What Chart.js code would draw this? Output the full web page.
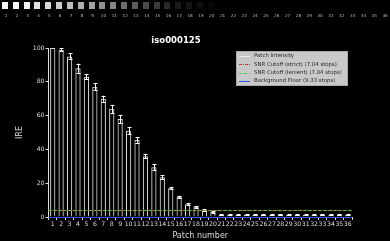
<!DOCTYPE html>
<html>
<head>
<meta charset="utf-8">
<script src="https://cdn.jsdelivr.net/npm/chart.js@4.4.1/dist/chart.umd.min.js"></script>
<style>
  html, body { margin: 0; padding: 0; background: #000; }
  canvas { display: block; }
</style>
</head>
<body>
<canvas id="patches" width="390" height="241"></canvas>
<script>
// patch data
var patchLabels = ["1","2","3","4","5","6","7","8","9","10","11","12","13","14","15","16","17","18",
                   "19","20","21","22","23","24","25","26","27","28","29","30","31","32","33","34","35","36"];
var patchIntensity = [100, 99, 95, 88, 83, 77, 70, 64, 58, 51, 45.5, 36, 29.5, 23.5, 17, 12, 7.5, 6,
                      4, 3, 1.3, 1.3, 1.3, 1.3, 1.3, 1.3, 1.3, 1.3, 1.3, 1.3, 1.3, 1.3, 1.3, 1.3, 1.3, 1.3];
var patchError = [0, 0.8, 1.8, 2.7, 1.5, 2, 1.8, 2.4, 2.4, 2, 1.6, 1.2, 1.8, 1.2, 0.6, 0.6, 0.5, 0.5,
                  0.5, 0.5, 0.4, 0.4, 0.4, 0.4, 0.4, 0.4, 0.4, 0.4, 0.4, 0.4, 0.4, 0.4, 0.4, 0.4, 0.4, 0.4];
var snrStrict = 4.1;
var snrLenient = 4.1;
var backgroundFloor = 0.16;
var yTicks = [0, 20, 40, 60, 80, 100];

var legendItems = [
    { text: "Patch Intensity", color: "#ececec", dash: [] },
    { text: "SNR Cutoff (strict) (7.04 stops)", color: "#e03030", dash: [3, 1, 1, 1] },
    { text: "SNR Cutoff (lenient) (7.04 stops)", color: "#44cc44", dash: [3, 2] },
    { text: "Background Floor (9.33 stops)", color: "#3355ee", dash: [] }
];

var txt = "#dddddd";

var overlay = {
    id: 'overlay',
    afterDatasetsDraw: function(chart) {
        var c = chart.ctx, x = chart.scales.x, y = chart.scales.y, a = chart.chartArea;
        var meta = chart.getDatasetMeta(0);
        c.save();
        // error bars
        c.strokeStyle = "#ffffff";
        c.lineWidth = 1;
        meta.data.forEach(function(bar, i) {
            var e = patchError[i];
            if (!e) return;
            var v = patchIntensity[i];
            var cx = Math.round(bar.x) + 0.5;
            var top = y.getPixelForValue(Math.min(100, v + e));
            var bot = y.getPixelForValue(v - e);
            var hw = 2;
            c.beginPath();
            c.moveTo(cx, top); c.lineTo(cx, bot);
            c.moveTo(cx - hw, Math.round(top) + 0.5); c.lineTo(cx + hw, Math.round(top) + 0.5);
            c.moveTo(cx - hw, Math.round(bot) + 0.5); c.lineTo(cx + hw, Math.round(bot) + 0.5);
            c.stroke();
        });
        // horizontal reference lines
        function hline(v, color, dash) {
            var py = Math.round(y.getPixelForValue(v)) + 0.5;
            c.setLineDash(dash);
            c.strokeStyle = color;
            c.beginPath();
            c.moveTo(a.left, py); c.lineTo(a.right, py);
            c.stroke();
        }
        hline(backgroundFloor, legendItems[3].color, []);
        hline(snrStrict, legendItems[1].color, legendItems[1].dash);
        hline(snrLenient, legendItems[2].color, legendItems[2].dash);
        c.setLineDash([]);

        // legend box
        var lx = 236, ly = 51, lw = 112, lh = 35;
        c.fillStyle = "rgba(212,212,212,0.95)";
        c.fillRect(lx, ly, lw, lh);
        c.strokeStyle = "#aaaaaa";
        c.strokeRect(lx + 0.5, ly + 0.5, lw - 1, lh - 1);
        c.font = "5.4px 'DejaVu Sans'";
        c.textBaseline = "middle";
        legendItems.forEach(function(it, i) {
            var ry = ly + 5 + i * 8.3;
            c.strokeStyle = it.color;
            c.lineWidth = 1;
            c.setLineDash(it.dash);
            c.beginPath();
            c.moveTo(lx + 3, Math.round(ry) + 0.5); c.lineTo(lx + 14, Math.round(ry) + 0.5);
            c.stroke();
            c.setLineDash([]);
            c.fillStyle = "#2a2a2a";
            c.fillText(it.text, lx + 18, ry);
        });

        // patch swatches strip at the top
        c.textAlign = "center";
        c.font = "4.2px 'DejaVu Sans'";
        patchIntensity.forEach(function(v, i) {
            var sx = 2 + i * 10.83;
            var g = Math.round(255 * Math.pow(Math.max(v - 1.5, 0) / 100, 0.8));
            c.fillStyle = "rgb(" + g + "," + g + "," + g + ")";
            c.fillRect(Math.round(sx), 2, 6, 7);
            c.fillStyle = "#bbbbbb";
            c.fillText(patchLabels[i], sx + 4, 15.5);
        });
        c.restore();
    }
};

new Chart(document.getElementById("patches"), {
    type: 'bar',
    data: {
        labels: patchLabels,
        datasets: [{
            label: "Patch Intensity",
            data: patchIntensity,
            backgroundColor: "rgba(0,0,0,0)",
            borderColor: "#dcdcdc",
            borderWidth: 1,
            barPercentage: 0.62,
            categoryPercentage: 1
        }]
    },
    options: {
        responsive: false,
        animation: false,
        devicePixelRatio: 1,
        layout: { padding: { left: 0, right: 38, top: 0, bottom: 0 } },
        plugins: {
            legend: { display: false },
            tooltip: { enabled: false },
            title: {
                display: true,
                text: "iso000125",
                color: "#ffffff",
                font: { family: "'DejaVu Sans'", size: 8.5, weight: 'bold' },
                padding: { top: 35.5, bottom: 2.3 }
            }
        },
        scales: {
            x: {
                offset: true,
                grid: { drawOnChartArea: false, color: txt, tickLength: 3 },
                border: { color: txt, width: 1 },
                ticks: { color: txt, font: { family: "'DejaVu Sans'", size: 6.2 }, padding: 1, maxRotation: 0, autoSkip: false },
                title: { display: true, text: "Patch number", color: txt, font: { family: "'DejaVu Sans'", size: 8 }, padding: { top: 2, bottom: 0 } },
                afterFit: function(s) { s.height = 24; }
            },
            y: {
                min: 0, max: 100,
                afterBuildTicks: function(s) { s.ticks = yTicks.map(function(v) { return { value: v }; }); },
                grid: { drawOnChartArea: false, color: txt, tickLength: 3 },
                border: { color: txt, width: 1 },
                ticks: { color: txt, font: { family: "'DejaVu Sans'", size: 6.2 }, padding: 1,
                         callback: function(v) { return String(v); } },
                title: { display: true, text: "IRE", color: txt, font: { family: "'DejaVu Sans'", size: 8 }, padding: { top: 15, bottom: 0 } },
                afterFit: function(s) { s.width = 48.5; }
            }
        }
    },
    plugins: [overlay]
});
</script>
</body>
</html>
